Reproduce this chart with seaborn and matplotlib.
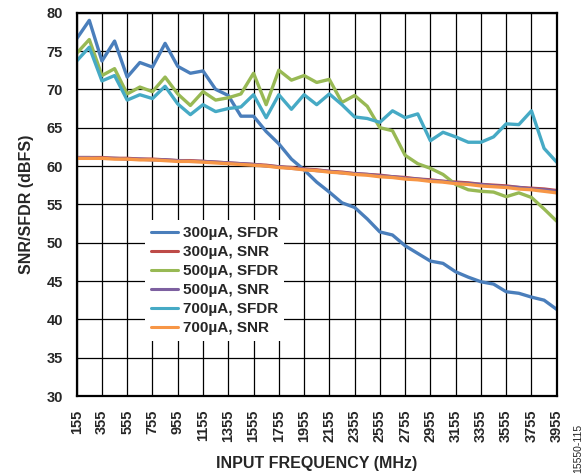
import numpy as np
import pandas as pd
import matplotlib
matplotlib.use("Agg")
import matplotlib.pyplot as plt
import seaborn as sns

# input frequencies (MHz)
freq = [155, 255, 355, 455, 555, 655, 755, 855, 955, 1055, 1155, 1255, 1355,
        1455, 1555, 1655, 1755, 1855, 1955, 2055, 2155, 2255, 2355, 2455,
        2555, 2655, 2755, 2855, 2955, 3055, 3155, 3255, 3355, 3455, 3555,
        3655, 3755, 3855, 3955]

sfdr_300 = [76.6, 79.0, 73.7, 76.3, 71.6, 73.5, 72.9, 76.0, 73.0, 72.1, 72.4,
            70.0, 69.2, 66.5, 66.5, 64.5, 62.9, 60.9, 59.5, 57.9, 56.6, 55.2,
            54.6, 53.1, 51.4, 51.0, 49.6, 48.6, 47.6, 47.3, 46.2, 45.5, 44.9,
            44.6, 43.6, 43.4, 42.9, 42.5, 41.3]
snr_300 = [61.1, 61.1, 61.1, 61.0, 61.0, 60.9, 60.9, 60.8, 60.7, 60.7, 60.6,
           60.5, 60.4, 60.3, 60.2, 60.1, 59.9, 59.8, 59.6, 59.5, 59.3, 59.2,
           59.0, 58.9, 58.8, 58.6, 58.5, 58.3, 58.2, 58.0, 57.9, 57.8, 57.6,
           57.5, 57.4, 57.2, 57.1, 57.0, 56.8]
sfdr_500 = [74.7, 76.5, 71.8, 72.7, 69.4, 70.3, 69.7, 71.6, 69.4, 67.9, 69.7,
            68.6, 68.9, 69.4, 72.1, 68.0, 72.5, 71.2, 71.8, 70.9, 71.3, 68.3,
            69.2, 67.8, 65.0, 64.6, 61.4, 60.3, 59.7, 58.9, 57.6, 56.9, 56.7,
            56.6, 56.0, 56.5, 55.9, 54.4, 52.8]
snr_500 = [61.1, 61.1, 61.0, 61.0, 60.9, 60.9, 60.8, 60.8, 60.7, 60.6, 60.6,
           60.5, 60.4, 60.3, 60.2, 60.0, 59.9, 59.7, 59.6, 59.4, 59.3, 59.1,
           59.0, 58.9, 58.7, 58.6, 58.4, 58.3, 58.1, 58.0, 57.8, 57.7, 57.6,
           57.4, 57.3, 57.2, 57.0, 56.9, 56.7]
sfdr_700 = [73.7, 75.5, 71.1, 71.8, 68.6, 69.3, 68.8, 70.4, 68.1, 66.7, 68.0,
            67.1, 67.5, 67.7, 69.3, 66.3, 69.3, 67.4, 69.3, 68.0, 69.4, 68.0,
            66.4, 66.2, 65.7, 67.2, 66.3, 66.8, 63.3, 64.4, 63.8, 63.1, 63.1,
            63.8, 65.5, 65.4, 67.2, 62.3, 60.5]
snr_700 = [61.0, 61.0, 61.0, 60.9, 60.9, 60.8, 60.8, 60.7, 60.6, 60.6, 60.5,
           60.4, 60.3, 60.2, 60.1, 60.0, 59.8, 59.7, 59.5, 59.4, 59.2, 59.1,
           58.9, 58.8, 58.6, 58.5, 58.3, 58.2, 58.0, 57.9, 57.7, 57.6, 57.4,
           57.3, 57.2, 57.0, 56.9, 56.7, 56.5]

labels = ["300µA, SFDR", "300µA, SNR", "500µA, SFDR",
          "500µA, SNR", "700µA, SFDR", "700µA, SNR"]
colors = ["#4A7EBB", "#BE4B48", "#98B954", "#7D60A0", "#46AAC5", "#F79646"]

x_ticks = [155, 355, 555, 755, 955, 1155, 1355, 1555, 1755, 1955, 2155,
           2355, 2555, 2755, 2955, 3155, 3355, 3555, 3755, 3955]
y_ticks = [30, 35, 40, 45, 50, 55, 60, 65, 70, 75, 80]

series = [sfdr_300, snr_300, sfdr_500, snr_500, sfdr_700, snr_700]
frames = []
for name, vals in zip(labels, series):
    frames.append(pd.DataFrame({"freq": freq, "value": vals, "series": name}))
df = pd.concat(frames, ignore_index=True)

sns.set_style("white")
plt.rcParams['font.family'] = ['Liberation Sans', 'DejaVu Sans']
plt.rcParams['font.weight'] = 'bold'

fig = plt.figure(figsize=(5.88, 4.75), dpi=100)
ax = fig.add_axes([0.1304, 0.1663, 0.8164, 0.807])

sns.lineplot(data=df, x="freq", y="value", hue="series", hue_order=labels,
             palette=colors, linewidth=2.4, ax=ax, legend=False)

ax.set_xlim(155, 3955)
ax.set_ylim(30, 80)
ax.set_xticks(x_ticks)
ax.set_xticklabels([str(t) for t in x_ticks], rotation=90, fontsize=10.5,
                   fontweight='bold')
ax.set_yticks(y_ticks)
ax.set_yticklabels([str(t) for t in y_ticks], fontsize=10.5, fontweight='bold')
ax.tick_params(axis='both', length=0)
ax.tick_params(axis='x', pad=10)
ax.tick_params(axis='y', pad=10)

ax.grid(True, color='black', linewidth=0.9)
ax.set_axisbelow(True)
for sp in ax.spines.values():
    sp.set_color('black')
    sp.set_linewidth(1.6)
    sp.set_visible(True)

ax.set_xlabel("INPUT FREQUENCY (MHz)", fontsize=11.5, fontweight='bold',
              labelpad=10)
ax.set_ylabel("SNR/SFDR (dBFS)", fontsize=11.5, fontweight='bold', labelpad=9)

handles = [plt.Line2D([], [], color=c, linewidth=2.2) for c in colors]
leg = ax.legend(handles, labels, loc='center',
                bbox_to_anchor=(0.287, 0.301),
                prop={'weight': 'bold', 'size': 11},
                frameon=True, fancybox=False, framealpha=1,
                handlelength=1.8, handletextpad=0.3, labelspacing=0.33,
                borderpad=0.4)
leg.get_frame().set_edgecolor('white')
leg.get_frame().set_linewidth(0)

fig.text(0.983, 0.005, "15550-115", rotation=90, fontsize=7.5,
         fontweight='normal', ha='center', va='bottom')

fig.savefig("out.png", dpi=100)
